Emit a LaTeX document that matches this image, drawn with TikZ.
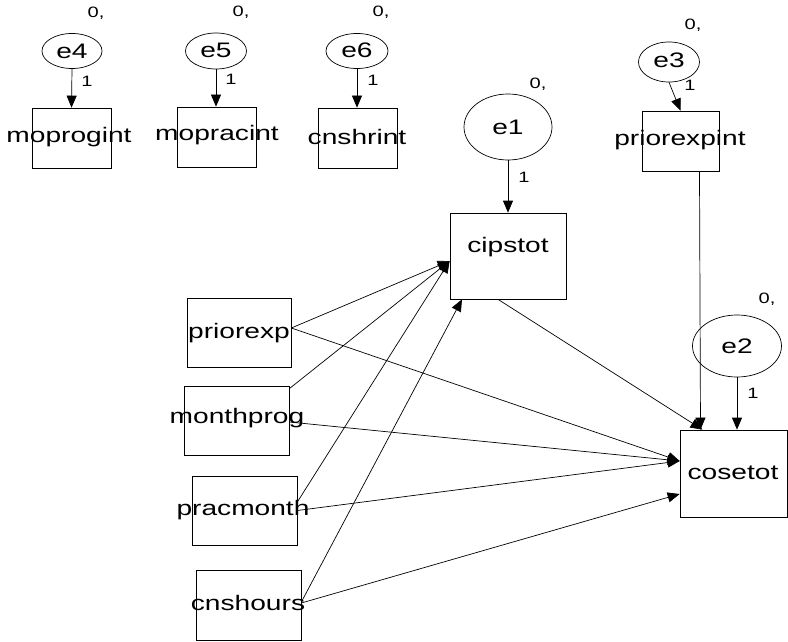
\documentclass[tikz,border=0pt]{standalone}
\usepackage{graphicx}
\usepackage{fontspec}
\setmainfont{Liberation Sans}
\usetikzlibrary{arrows.meta,shapes.geometric}
\newcommand\wtxt[1]{\scalebox{1.34}[1]{#1}}
\begin{document}
\begin{tikzpicture}[x=1pt,y=-1pt,
  box/.style={draw,line width=0.7pt,inner sep=0pt},
  ell/.style={draw,ellipse,line width=0.7pt,inner sep=0pt},
  big/.style={inner sep=0pt,font=\fontsize{21}{21}\selectfont},
  small/.style={inner sep=0pt,font=\fontsize{15}{15}\selectfont},
  arr/.style={-{Triangle[length=12pt,width=10pt]},line width=0.7pt}]
\useasboundingbox (0,0) rectangle (788,642);

% error ellipses
\node[ell,minimum width=60pt,minimum height=35pt] (e4) at (72,51) {};
\node[ell,minimum width=61pt,minimum height=36pt] (e5) at (216,51) {};
\node[ell,minimum width=62pt,minimum height=35pt] (e6) at (357,51) {};
\node[ell,minimum width=88pt,minimum height=66pt] (e1) at (508,127) {};
\node[ell,minimum width=61pt,minimum height=40pt] (e3) at (669,62) {};
\node[ell,minimum width=89pt,minimum height=62pt] (e2) at (737,346) {};
\node[big] (te4) at (72,51) {\wtxt{e4}};
\node[big] (te5) at (216,50) {\wtxt{e5}};
\node[big] (te6) at (357,50) {\wtxt{e6}};
\node[big] (te1) at (508,127) {\wtxt{e1}};
\node[big] (te3) at (669,60) {\wtxt{e3}};
\node[big] (te2) at (737,346) {\wtxt{e2}};

% boxes
\node[box,minimum width=79pt,minimum height=60pt] (moprogint) at (71.5,138) {};
\node[box,minimum width=79pt,minimum height=60pt] (mopracint) at (216.5,137) {};
\node[box,minimum width=79pt,minimum height=60pt] (cnshrint) at (357.5,138) {};
\node[box,minimum width=116pt,minimum height=86pt] (cipstot) at (508,256) {};
\node[box,minimum width=77pt,minimum height=60pt] (priorexpint) at (680.5,141) {};
\node[box,minimum width=107pt,minimum height=87pt] (cosetot) at (733.5,473.5) {};
\node[box,minimum width=104pt,minimum height=69pt] (priorexp) at (239,332.5) {};
\node[box,minimum width=105pt,minimum height=69pt] (monthprog) at (236.5,420.5) {};
\node[box,minimum width=105pt,minimum height=69pt] (pracmonth) at (244.5,510.5) {};
\node[box,minimum width=105pt,minimum height=70pt] (cnshours) at (248.5,605) {};

\node[big] (tmoprogint) at (69,137) {\wtxt{moprogint}};
\node[big] (tmopracint) at (217,135) {\wtxt{mopracint}};
\node[big] (tcnshrint) at (357,137) {\wtxt{cnshrint}};
\node[big] (tcipstot) at (508,247) {\wtxt{cipstot}};
\node[big] (tpriorexpint) at (680,140) {\wtxt{priorexpint}};
\node[big] (tcosetot) at (733,473) {\wtxt{cosetot}};
\node[big] (tpriorexp) at (239,333) {\wtxt{priorexp}};
\node[big] (tmonthprog) at (237,418) {\wtxt{monthprog}};
\node[big] (tpracmonth) at (243,510) {\wtxt{pracmonth}};
\node[big] (tcnshours) at (248,603) {\wtxt{cnshours}};

% small labels
\node[small] (z4) at (96,13) {\wtxt{0,}};
\node[small] (z5) at (241,12) {\wtxt{0,}};
\node[small] (z6) at (381,12) {\wtxt{0,}};
\node[small] (z1) at (538,84) {\wtxt{0,}};
\node[small] (z3) at (693,25) {\wtxt{0,}};
\node[small] (z2) at (767,299) {\wtxt{0,}};
\node[small] (o4) at (87,81) {\wtxt{1}};
\node[small] (o5) at (231,79) {\wtxt{1}};
\node[small] (o6) at (373,80) {\wtxt{1}};
\node[small] (o3) at (690,85) {\wtxt{1}};
\node[small] (o1) at (524,177) {\wtxt{1}};
\node[small] (o2) at (753,393) {\wtxt{1}};

% connectors
\draw[arr] (e4.south) -- (moprogint.north);
\draw[arr] (e5.south) -- (e5.south |- mopracint.north);
\draw[arr] (e6.south) -- (e6.south |- cnshrint.north);
\draw[arr] (e1.south) -- (cipstot.north);
\draw[arr] (e3.south) -- (priorexpint.north);
\draw[arr] (e2.south) -- (e2.south |- cosetot.north);
\draw[arr] ([xshift=19pt]priorexpint.south) -- ([xshift=-33pt]cosetot.north);
\draw[arr] ([xshift=-10pt]cipstot.south) -- ([xshift=-31pt]cosetot.north);

\draw[arr] ([yshift=4.5pt]priorexp.east) -- ([yshift=-5pt]cipstot.west);
\draw[arr] ([yshift=4.5pt]priorexp.east) -- ([yshift=12.5pt]cosetot.west);
\draw[arr] ([yshift=-3pt]monthprog.north east) -- ([yshift=-5pt]cipstot.west);
\draw[arr] ([yshift=-1.5pt]monthprog.east) -- ([yshift=12.5pt]cosetot.west);
\draw[arr] ([yshift=8.5pt]pracmonth.east) -- ([yshift=-5pt]cipstot.west);
\draw[arr] (pracmonth.east) -- ([yshift=12.5pt]cosetot.west);
\draw[arr] ([yshift=3pt]cnshours.east) -- ([xshift=-46pt]cipstot.south);
\draw[arr] ([yshift=2pt]cnshours.east) -- ([yshift=-20.5pt]cosetot.west);
\end{tikzpicture}
\end{document}
